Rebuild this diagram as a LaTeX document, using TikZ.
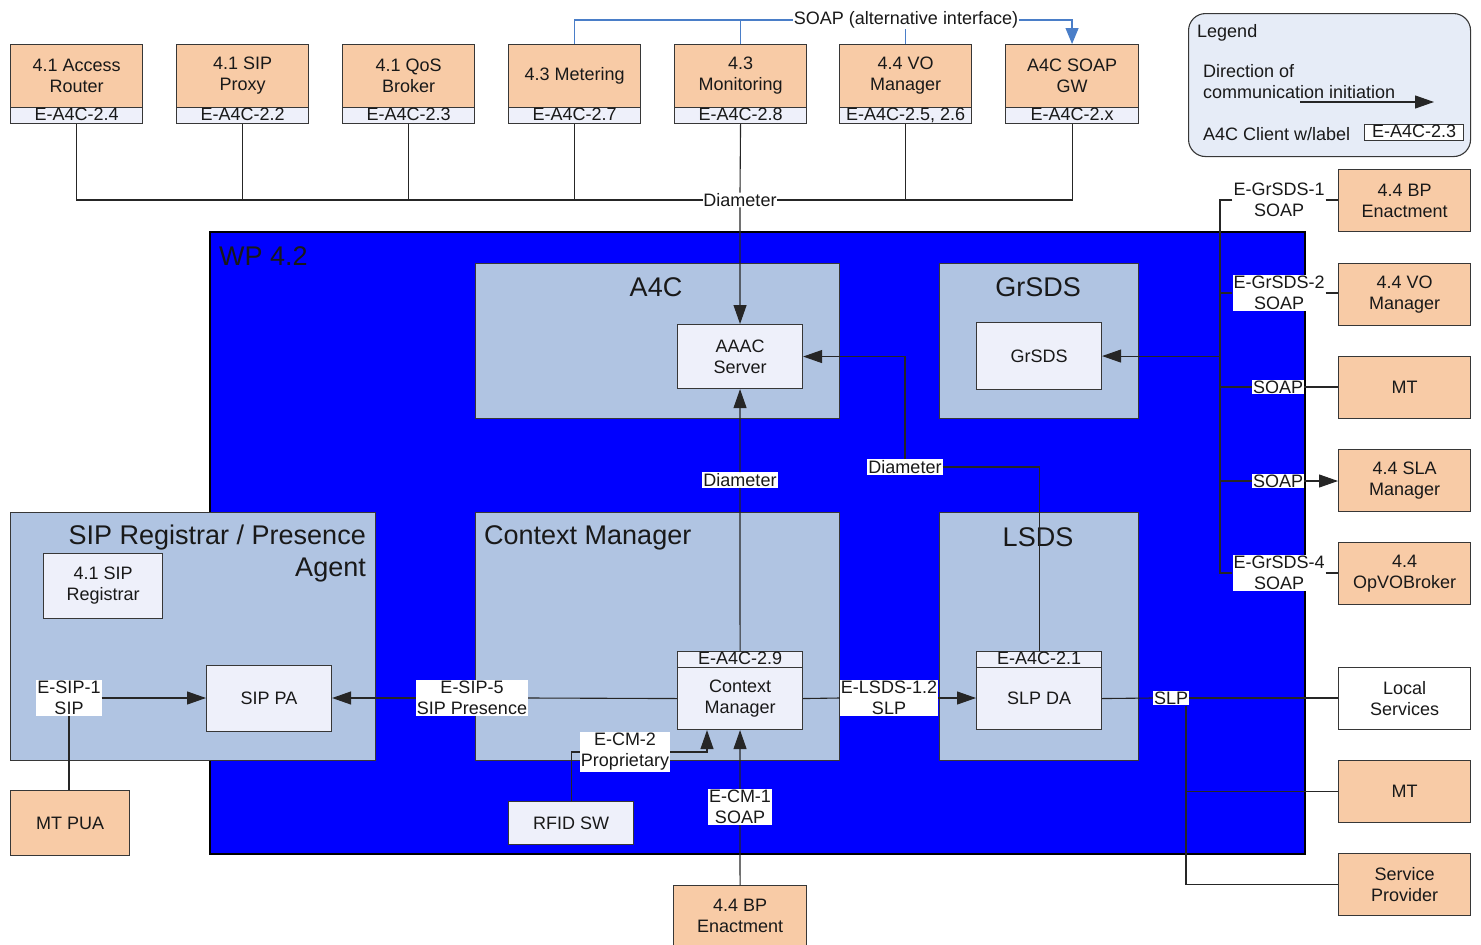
\documentclass[tikz,border=0pt]{standalone}
\usepackage{fontspec}
\setmainfont{Liberation Sans}
\usetikzlibrary{arrows.meta,calc}

\definecolor{peach}{RGB}{248,203,166}
\definecolor{grp}{RGB}{176,196,226}
\definecolor{pale}{RGB}{238,240,250}
\definecolor{legfill}{RGB}{230,236,247}
\definecolor{wpblue}{RGB}{0,0,255}
\definecolor{soapblue}{RGB}{74,126,200}
\definecolor{edge}{RGB}{55,55,55}
\definecolor{txt}{RGB}{25,25,25}

\newcommand\txtfont{\fontsize{18}{21}\selectfont}
\newcommand\ttlfont{\fontsize{27}{32}\selectfont}

\begin{document}
\begin{tikzpicture}[x=1pt,y=-1pt,
  box/.style={draw=edge, line width=1.1pt, inner sep=0pt, anchor=north west,
              align=center, font=\txtfont, text=txt},
  ext/.style={box, fill=peach},
  inbox/.style={box, fill=pale},
  grpbox/.style={box, fill=grp},
  strip/.style={box, fill=pale, minimum height=16pt, text height=12.5pt, text depth=2pt},
  title/.style={font=\ttlfont, text=txt, inner sep=0pt},
  tag/.style={fill=white, inner sep=1pt, align=center, font=\txtfont, text=txt},
  wire/.style={draw=black!85, line width=1.1pt},
  arr/.style={wire, -{Triangle[length=19pt,width=13pt]}},
  soapw/.style={draw=soapblue, line width=1.2pt},
]
\useasboundingbox (0,0) rectangle (1481,945);

% ---------- external clients on the top row ----------
\node[ext, minimum width=132pt, minimum height=63pt] (t1) at (10,44)  {4.1 Access\\Router};
\node[strip, minimum width=132pt] (t1s) at (10,107) {E-A4C-2.4};
\node[ext, minimum width=132pt, minimum height=63pt] (t2) at (176,44) {4.1 SIP\\Proxy};
\node[strip, minimum width=132pt] (t2s) at (176,107) {E-A4C-2.2};
\node[ext, minimum width=132pt, minimum height=63pt] (t3) at (342,44) {4.1 QoS\\Broker};
\node[strip, minimum width=132pt] (t3s) at (342,107) {E-A4C-2.3};
\node[ext, minimum width=132pt, minimum height=63pt] (t4) at (508,44) {4.3 Metering};
\node[strip, minimum width=132pt] (t4s) at (508,107) {E-A4C-2.7};
\node[ext, minimum width=132pt, minimum height=63pt] (t5) at (674,44) {4.3\\Monitoring};
\node[strip, minimum width=132pt] (t5s) at (674,107) {E-A4C-2.8};
\node[ext, minimum width=132pt, minimum height=63pt] (t6) at (839,44) {4.4 VO\\Manager};
\node[strip, minimum width=132pt] (t6s) at (839,107) {E-A4C-2.5, 2.6};
\node[ext, minimum width=133pt, minimum height=63pt] (t7) at (1005,44) {A4C SOAP\\GW};
\node[strip, minimum width=133pt] (t7s) at (1005,107) {E-A4C-2.x};

% ---------- legend ----------
\node[box, fill=legfill, rounded corners=17pt, minimum width=282pt, minimum height=143pt] (leg) at (1188,13) {};
\node[anchor=west, inner sep=0pt, font=\txtfont, text=txt] (legt) at (1197,33) {Legend};
\node[anchor=west, inner sep=0pt, font=\txtfont, text=txt, align=left] (legd) at (1203,82) {Direction of\\communication initiation};
\coordinate (la1) at (1300,102);
\coordinate (la2) at (1434,102);
\draw[arr] (la1) -- (la2);
\node[anchor=west, inner sep=0pt, font=\txtfont, text=txt] (legc) at (1203,134) {A4C Client w/label};
\node[strip, fill=white, minimum width=99pt] (legs) at (1364,124) {E-A4C-2.3};

% ---------- WP 4.2 area ----------
\node[box, fill=wpblue, draw=black, line width=1.5pt, minimum width=1095pt, minimum height=622pt] (wp) at (209,231) {};
\node[title, anchor=west] (wpt) at (219,256) {WP 4.2};

% A4C
\node[grpbox, minimum width=364pt, minimum height=155pt] (a4c) at (475,263) {};
\node[title] (a4ct) at (656,287) {A4C};
\node[inbox, minimum width=125pt, minimum height=64pt] (aaac) at (677,324) {AAAC\\Server};

% GrSDS
\node[grpbox, minimum width=199pt, minimum height=155pt] (grs) at (939,263) {};
\node[title] (grst) at (1038,287) {GrSDS};
\node[inbox, minimum width=125pt, minimum height=67pt] (grsds) at (976,322) {GrSDS};

% Context Manager
\node[grpbox, minimum width=364pt, minimum height=248pt] (cmg) at (475,512) {};
\node[title, anchor=west] (cmgt) at (484,538) {Context Manager};
\node[strip, minimum width=125pt] (cms) at (677,651) {E-A4C-2.9};
\node[inbox, minimum width=125pt, minimum height=62pt] (cm) at (677,667) {Context\\Manager};

% LSDS
\node[grpbox, minimum width=199pt, minimum height=248pt] (lsg) at (939,512) {};
\node[title] (lsgt) at (1038,537) {LSDS};
\node[strip, minimum width=125pt] (slps) at (976,651) {E-A4C-2.1};
\node[inbox, minimum width=125pt, minimum height=62pt] (slp) at (976,667) {SLP DA};

% SIP Registrar / Presence Agent
\node[grpbox, minimum width=365pt, minimum height=248pt] (sipg) at (10,512) {};
\node[title, anchor=east, align=right] (sipgt) at (366,554) {SIP Registrar / Presence\\Agent};
\node[inbox, minimum width=119pt, minimum height=65pt] (reg) at (43,553) {4.1 SIP\\Registrar};
\node[inbox, minimum width=125pt, minimum height=66pt] (sippa) at (206,665) {SIP PA};

\node[inbox, minimum width=125pt, minimum height=43pt] (rfid) at (508,801) {RFID SW};

% ---------- other external parties ----------
\node[ext, minimum width=119pt, minimum height=65pt] (mtpua) at (10,790) {MT PUA};
\node[ext, minimum width=133pt, minimum height=61pt] (bpe) at (673,885) {4.4 BP\\Enactment};

\node[ext, minimum width=132pt, minimum height=62pt] (bp2)  at (1338,169) {4.4 BP\\Enactment};
\node[ext, minimum width=132pt, minimum height=62pt] (vo2)  at (1338,263) {4.4 VO\\Manager};
\node[ext, minimum width=132pt, minimum height=62pt] (mt1)  at (1338,356) {MT};
\node[ext, minimum width=132pt, minimum height=62pt] (sla)  at (1338,449) {4.4 SLA\\Manager};
\node[ext, minimum width=132pt, minimum height=62pt] (opvo) at (1338,542) {4.4\\OpVOBroker};
\node[box, fill=white, minimum width=132pt, minimum height=62pt] (local) at (1338,667) {Local\\Services};
\node[ext, minimum width=132pt, minimum height=62pt] (mt2)  at (1338,760) {MT};
\node[ext, minimum width=132pt, minimum height=62pt] (sp)   at (1338,853) {Service\\Provider};

% ---------- SOAP alternative interface ----------
\node[tag, inner sep=0.5pt] (soap) at (906,20) {SOAP (alternative interface)};
\draw[soapw] (t4.north) |- (soap.west);
\draw[soapw] (t5.north) -- (t5.north |- soap.west);
\draw[soapw] (t6.north) -- (t6.north |- soap.south);
\draw[soapw, -{Triangle[length=16pt,width=13pt]}] (soap.east) -| (t7.north);

% ---------- Diameter bus ----------
\node[tag, inner sep=0.5pt] (dia) at (740,200) {Diameter};
\draw[wire] (t1s.south) |- (dia.west);
\draw[wire] (t2s.south) -- (t2s.south |- dia.west);
\draw[wire] (t3s.south) -- (t3s.south |- dia.west);
\draw[wire] (t4s.south) -- (t4s.south |- dia.west);
\draw[wire] (t5s.south) -- (dia.north);
\draw[wire] (t6s.south) -- (t6s.south |- dia.east);
\draw[wire] (t7s.south) |- (dia.east);
\draw[arr] (dia.south) -- (aaac.north);

% Diameter between Context Manager and AAAC server
\node[tag] (dia1) at (740,480) {Diameter};
\draw[arr] (dia1.north) -- (aaac.south);
\draw[wire] (dia1.south) -- (cms.north);

% Diameter between SLP DA and AAAC server
\node[tag] (dia2) at (905,467) {Diameter};
\draw[arr] (dia2.north) |- (aaac.east);
\draw[wire] (dia2.east) -| (slps.north);

% ---------- GrSDS interfaces ----------
\node[tag] (g1) at (1279,200) {E-GrSDS-1\\SOAP};
\node[tag] (g2) at (1279,293) {E-GrSDS-2\\SOAP};
\node[tag] (s3) at (1278,387) {SOAP};
\node[tag] (s4) at (1278,481) {SOAP};
\node[tag] (g4) at (1279,573) {E-GrSDS-4\\SOAP};
\coordinate (ttop) at (1220,200);
\coordinate (tbot) at (1220,573);
\draw[wire] (g1.west) -- (ttop) -- (tbot) -- (g4.west);
\draw[wire] (ttop |- g2.west) -- (g2.west);
\draw[wire] (ttop |- s3.west) -- (s3.west);
\draw[wire] (ttop |- s4.west) -- (s4.west);
\draw[arr] (ttop |- grsds.east) -- (grsds.east);
\draw[wire] (g1.east) -- (g1.east -| bp2.west);
\draw[wire] (g2.east) -- (g2.east -| vo2.west);
\draw[wire] (s3.east) -- (s3.east -| mt1.west);
\draw[arr] (s4.east) -- (s4.east -| sla.west);
\draw[wire] (g4.east) -- (g4.east -| opvo.west);

% ---------- SIP interfaces ----------
\node[tag] (e1) at (69,698) {E-SIP-1\\SIP};
\draw[arr] (e1.east) -- (e1.east -| sippa.west);
\draw[wire] (e1.south) -- (e1.south |- mtpua.north);
\node[tag] (e5) at (472,698) {E-SIP-5\\SIP Presence};
\draw[wire] (cm.west) -- (e5.east);
\draw[arr] (e5.west) -- (e5.west -| sippa.east);

% ---------- LSDS / SLP ----------
\node[tag] (els) at (889,698) {E-LSDS-1.2\\SLP};
\draw[wire] (cm.east) -- (els.west);
\draw[arr] (els.east) -- (els.east -| slp.west);
\node[tag] (slpt) at (1171,698) {SLP};
\draw[wire] (slp.east) -- (slpt.west);
\draw[wire] (slpt.east) -- (slpt.east -| local.west);
\coordinate (sv) at (1186,884);
\draw[wire] (slpt.south -| sv) |- (sp.west);
\draw[wire] (sv |- mt2.west) -- (mt2.west);

% ---------- Context Manager inputs ----------
\node[tag] (ecm2) at (625,752) {E-CM-2\\Proprietary};
\draw[wire] (rfid.north) |- (ecm2.west);
\draw[arr] (ecm2.east) -| ([xshift=30pt]cm.south west);
\node[tag] (ecm1) at (740,807) {E-CM-1\\SOAP};
\draw[wire] (bpe.north) -- (ecm1.south);
\draw[arr] (ecm1.north) -- (cm.south);

\end{tikzpicture}
\end{document}
